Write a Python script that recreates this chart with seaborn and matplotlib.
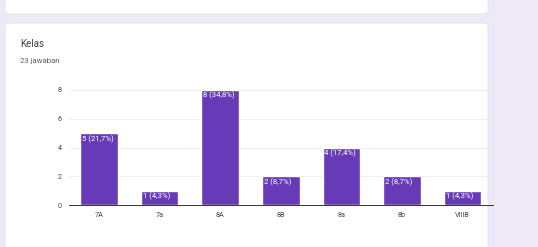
import numpy as np
import pandas as pd
import seaborn as sns
import matplotlib.pyplot as plt
from matplotlib.patches import FancyBboxPatch

# Data
kelas = ['7A', '7a', '8A', '8B', '8a', '8b', 'VIIIB']
jumlah = [5, 1, 8, 2, 4, 2, 1]
persen = ['21,7', '4,3', '34,8', '8,7', '17,4', '8,7', '4,3']

df = pd.DataFrame({'kelas': kelas, 'jumlah': jumlah})

sns.set_style('white')
plt.rcParams['font.family'] = ['Roboto', 'DejaVu Sans']

W, H = 538, 247
fig = plt.figure(figsize=(W / 100, H / 100), dpi=100)
fig.patch.set_facecolor('#ede9f6')

# card backgrounds (pixel coords -> figure fraction)
def card(x0, y0, x1, y1):
    p = FancyBboxPatch((x0 / W, 1 - y1 / H), (x1 - x0) / W, (y1 - y0) / H,
                       boxstyle='round,pad=0,rounding_size=0.012',
                       transform=fig.transFigure, facecolor='white',
                       edgecolor='#e4e0ee', linewidth=0.6, zorder=-5)
    fig.patches.append(p)

card(5, -10, 488, 14)
card(5, 23, 488, 260)

fig.text(20 / W, 1 - 44 / H, 'Kelas', fontsize=7, color='#3c4043', va='center')
fig.text(20 / W, 1 - 61 / H, '23 jawaban', fontsize=5.6, color='#5f6368', va='center')

ax = fig.add_axes([68.7 / W, 42 / H, (493 - 68.7) / W, 115 / H])
ax.set_facecolor('none')
sns.barplot(data=df, x='kelas', y='jumlah', color='#673ab7', saturation=1,
            width=0.62, ax=ax, zorder=3)

ax.set_ylim(0, 8)
ax.set_xlim(-0.5, len(kelas) - 0.5)
ax.set_yticks([0, 2, 4, 6, 8])
ax.grid(axis='y', color='#ececec', linewidth=0.6, zorder=0)
sns.despine(ax=ax, left=True, top=True, right=True)
ax.spines['bottom'].set_color('#333333')
ax.spines['bottom'].set_linewidth(0.7)
ax.spines['bottom'].set_zorder(4)
ax.tick_params(axis='both', length=0, labelsize=5.2, labelcolor='#444444', pad=5)
ax.set_xlabel('')
ax.set_ylabel('')

for i, (v, p) in enumerate(zip(jumlah, persen)):
    ax.text(i - 0.28, v - 0.12, f'{v} ({p}%)', color='white', fontsize=5.6,
            ha='left', va='top', zorder=5)

fig.savefig('out.png', dpi=100, facecolor=fig.get_facecolor())
